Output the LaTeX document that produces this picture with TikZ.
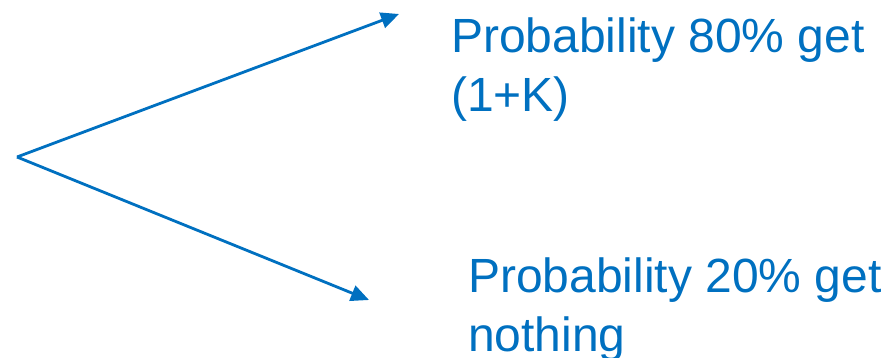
\documentclass[tikz,border=0pt]{standalone}
\usepackage{fontspec}
\setmainfont{Liberation Sans}
\usetikzlibrary{arrows.meta}
\definecolor{blu}{HTML}{0070C0}
\begin{document}
\begin{tikzpicture}[x=1pt,y=1pt,
  conn/.style={draw=blu,line width=2.8pt,-{Triangle[length=18pt,width=16pt]}},
  lbl/.style={text=blu,font=\fontsize{48}{58}\selectfont,inner sep=0pt,anchor=base west}]
\useasboundingbox (0,0) rectangle (888,358);
\coordinate (o) at (17,201);
\node[lbl] (a1) at (451,305) {Probability 80\% get};
\node[lbl] (a2) at (451,246) {(1+K)};
\node[lbl] (b1) at (468,65) {Probability 20\% get};
\node[lbl] (b2) at (468,6) {nothing};
\coordinate (ta) at (399,344);
\coordinate (tb) at (369,58);
\draw[conn] (o) -- (ta);
\draw[conn] (o) -- (tb);
\end{tikzpicture}
\end{document}
